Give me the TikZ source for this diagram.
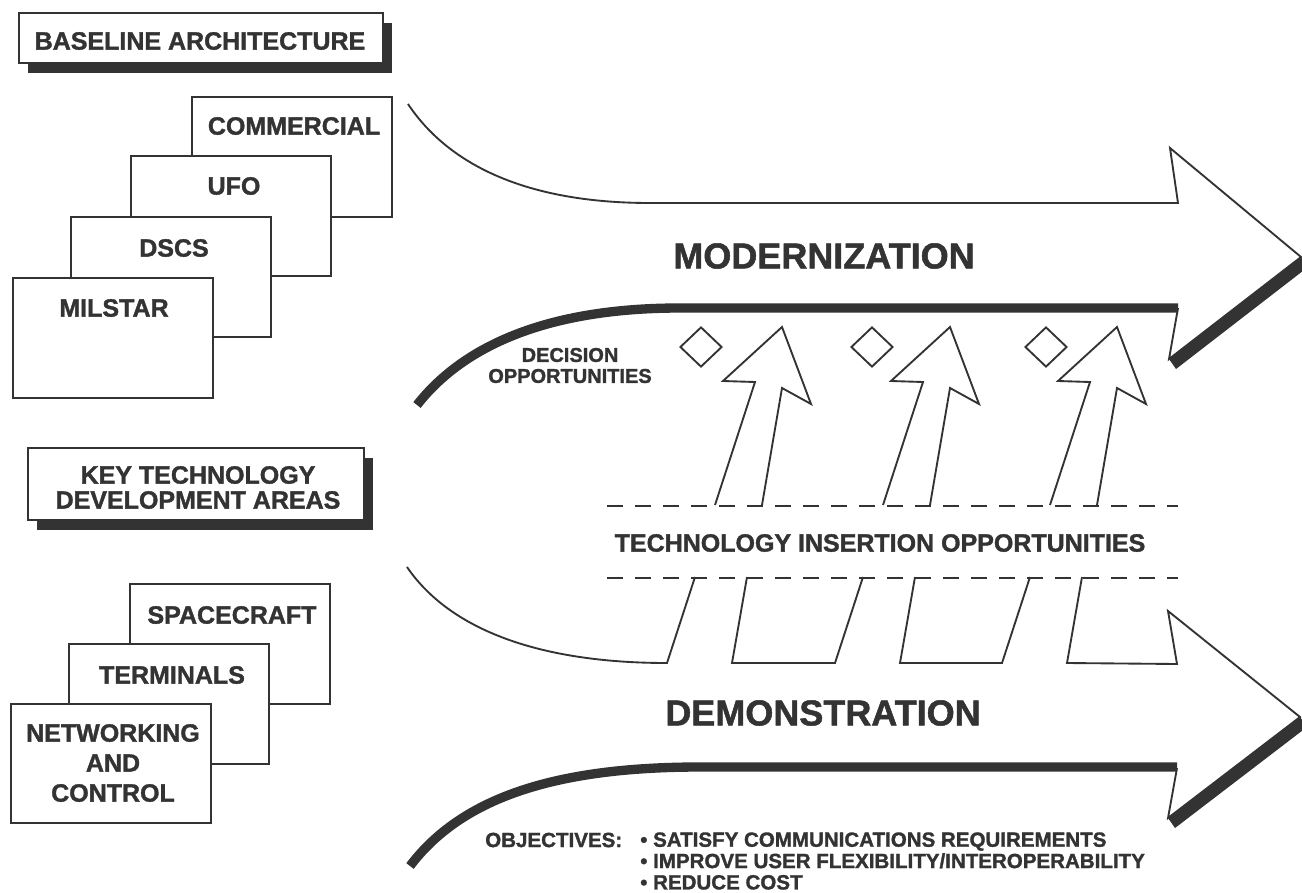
\documentclass[tikz,border=0pt]{standalone}
\usepackage{fontspec}
\setmainfont{Liberation Sans}[BoldFeatures={FakeBold=1.4}]
\usetikzlibrary{shapes.geometric,shadows}
\definecolor{ink}{gray}{0.2}

% type sizes (one unit of the picture is 0.75pt)
\newcommand\fntCard{\fontsize{18.75pt}{18.75pt}\selectfont\bfseries}
\newcommand\fntNet{\fontsize{18.75pt}{22.5pt}\selectfont\bfseries}
\newcommand\fntBig{\fontsize{27pt}{30pt}\selectfont\bfseries}
\newcommand\fntSmall{\fontsize{15pt}{15.75pt}\selectfont\bfseries}
\newcommand\fntObj{\fontsize{15.4pt}{16pt}\selectfont\bfseries}

\begin{document}
\begin{tikzpicture}[x=0.75pt,y=-0.75pt,line join=miter,
  txt/.style={text=ink,inner sep=0pt,align=center},
  card/.style={draw=ink,line width=1.5pt,fill=white,inner sep=0pt,
    anchor=north west,minimum width=150pt,minimum height=90pt},
  header/.style={draw=ink,line width=1.5pt,fill=white,inner sep=0pt,
    drop shadow={shadow xshift=7pt,shadow yshift=-7.5pt,fill=ink,opacity=1}},
  outline/.style={draw=ink,line width=1.4pt},
  heavy/.style={draw=ink,line width=7pt},
  dashline/.style={draw=ink,line width=1.5pt,dash pattern=on 12pt off 9pt},
  decision/.style={draw=ink,line width=1.4pt,shape=diamond,inner sep=0pt,
    minimum width=31.5pt,minimum height=30pt}]

\useasboundingbox (0,0) rectangle (1302,892);
\fill[white] (0,0) rectangle (1302,892);

% ---------- left column: baseline architecture ----------
\node[header,minimum width=273pt,minimum height=37.5pt] (hdrA) at (201,38) {};
\node[txt,font=\fntCard] (hdrAtxt) at (200,41) {BASELINE ARCHITECTURE};

\node[card] (commercial) at (191,96) {};
\node[card] (ufo) at (130,155) {};
\node[card] (dscs) at (70,216) {};
\node[card] (milstar) at (12,277) {};
\node[txt,font=\fntCard] (tcommercial) at (294,126) {COMMERCIAL};
\node[txt,font=\fntCard] (tufo) at (234,186) {UFO};
\node[txt,font=\fntCard] (tdscs) at (174,248) {DSCS};
\node[txt,font=\fntCard] (tmilstar) at (114,308) {MILSTAR};

% ---------- left column: technology areas ----------
\node[header,minimum width=252pt,minimum height=54pt] (hdrB) at (196,484) {};
\node[txt,font=\fntCard] (hdrBtxt) at (198,487.5) {KEY TECHNOLOGY\\DEVELOPMENT AREAS};

\node[card] (spacecraft) at (129,583) {};
\node[card] (terminals) at (68,643) {};
\node[card,minimum height=89pt] (network) at (10,703) {};
\node[txt,font=\fntCard] (tspacecraft) at (232,615) {SPACECRAFT};
\node[txt,font=\fntCard] (tterminals) at (172,675) {TERMINALS};
\node[txt,font=\fntNet] (tnetwork) at (113,763) {NETWORKING\\AND\\CONTROL};

% ---------- modernization arrow ----------
\fill[ink] (1301,257) -- (1308,267) -- (1176,369) -- (1169,359) -- cycle;
\draw[outline] (408,104) .. controls (450,167) and (530,203) .. (650,203)
  -- (1178,203) -- (1170,148) -- (1301,257) -- (1169,359) -- (1178,308);
\draw[heavy] (417,405) .. controls (460,350) and (540,308) .. (680,308) -- (1178,308);
\node[txt,font=\fntBig] (modern) at (824,256) {MODERNIZATION};

% ---------- decision points and insertion arrows ----------
\node[decision] (dec1) at (701,347) {};
\node[decision] (dec2) at (872,347) {};
\node[decision] (dec3) at (1046,347) {};
\node[txt,font=\fntSmall] (decision) at (570,365.5) {DECISION\\OPPORTUNITIES};

\foreach \s in {0,168,335}{
  \draw[outline,shift={(\s,0)}] (715,505) -- (755,382) -- (723,381) -- (782,327)
    -- (811,404) -- (782,388) -- (762,505);
}

\draw[dashline] (607,506) -- (1178,506);
\draw[dashline] (607,578) -- (1178,578);
\node[txt,font=\fntCard] (insertion) at (880,543) {TECHNOLOGY INSERTION OPPORTUNITIES};

% ---------- demonstration arrow ----------
\fill[ink] (1300,717) -- (1307,727) -- (1175,828) -- (1168,818) -- cycle;
\draw[outline] (407,567) .. controls (450,630) and (540,663) .. (667,663) -- (695,577);
\draw[outline] (747,577) -- (732,663) -- (835,663) -- (863,577);
\draw[outline] (915,577) -- (900,663) -- (1002,663) -- (1030,577);
\draw[outline] (1082,577) -- (1067,663) -- (1177,664) -- (1168,611) -- (1300,717)
  -- (1168,818) -- (1177,768);
\draw[heavy] (410,866) .. controls (460,800) and (550,767) .. (700,767) -- (1177,767);
\node[txt,font=\fntBig] (demo) at (823,713) {DEMONSTRATION};

% ---------- objectives ----------
\node[txt,font=\fntObj,anchor=west] (objectives) at (485,840) {OBJECTIVES:};
\node[txt,font=\fntObj,anchor=west,align=left] (goals) at (640,861)
  {\textbullet\ SATISFY COMMUNICATIONS REQUIREMENTS\\
   \textbullet\ IMPROVE USER FLEXIBILITY/INTEROPERABILITY\\
   \textbullet\ REDUCE COST};
\end{tikzpicture}
\end{document}
